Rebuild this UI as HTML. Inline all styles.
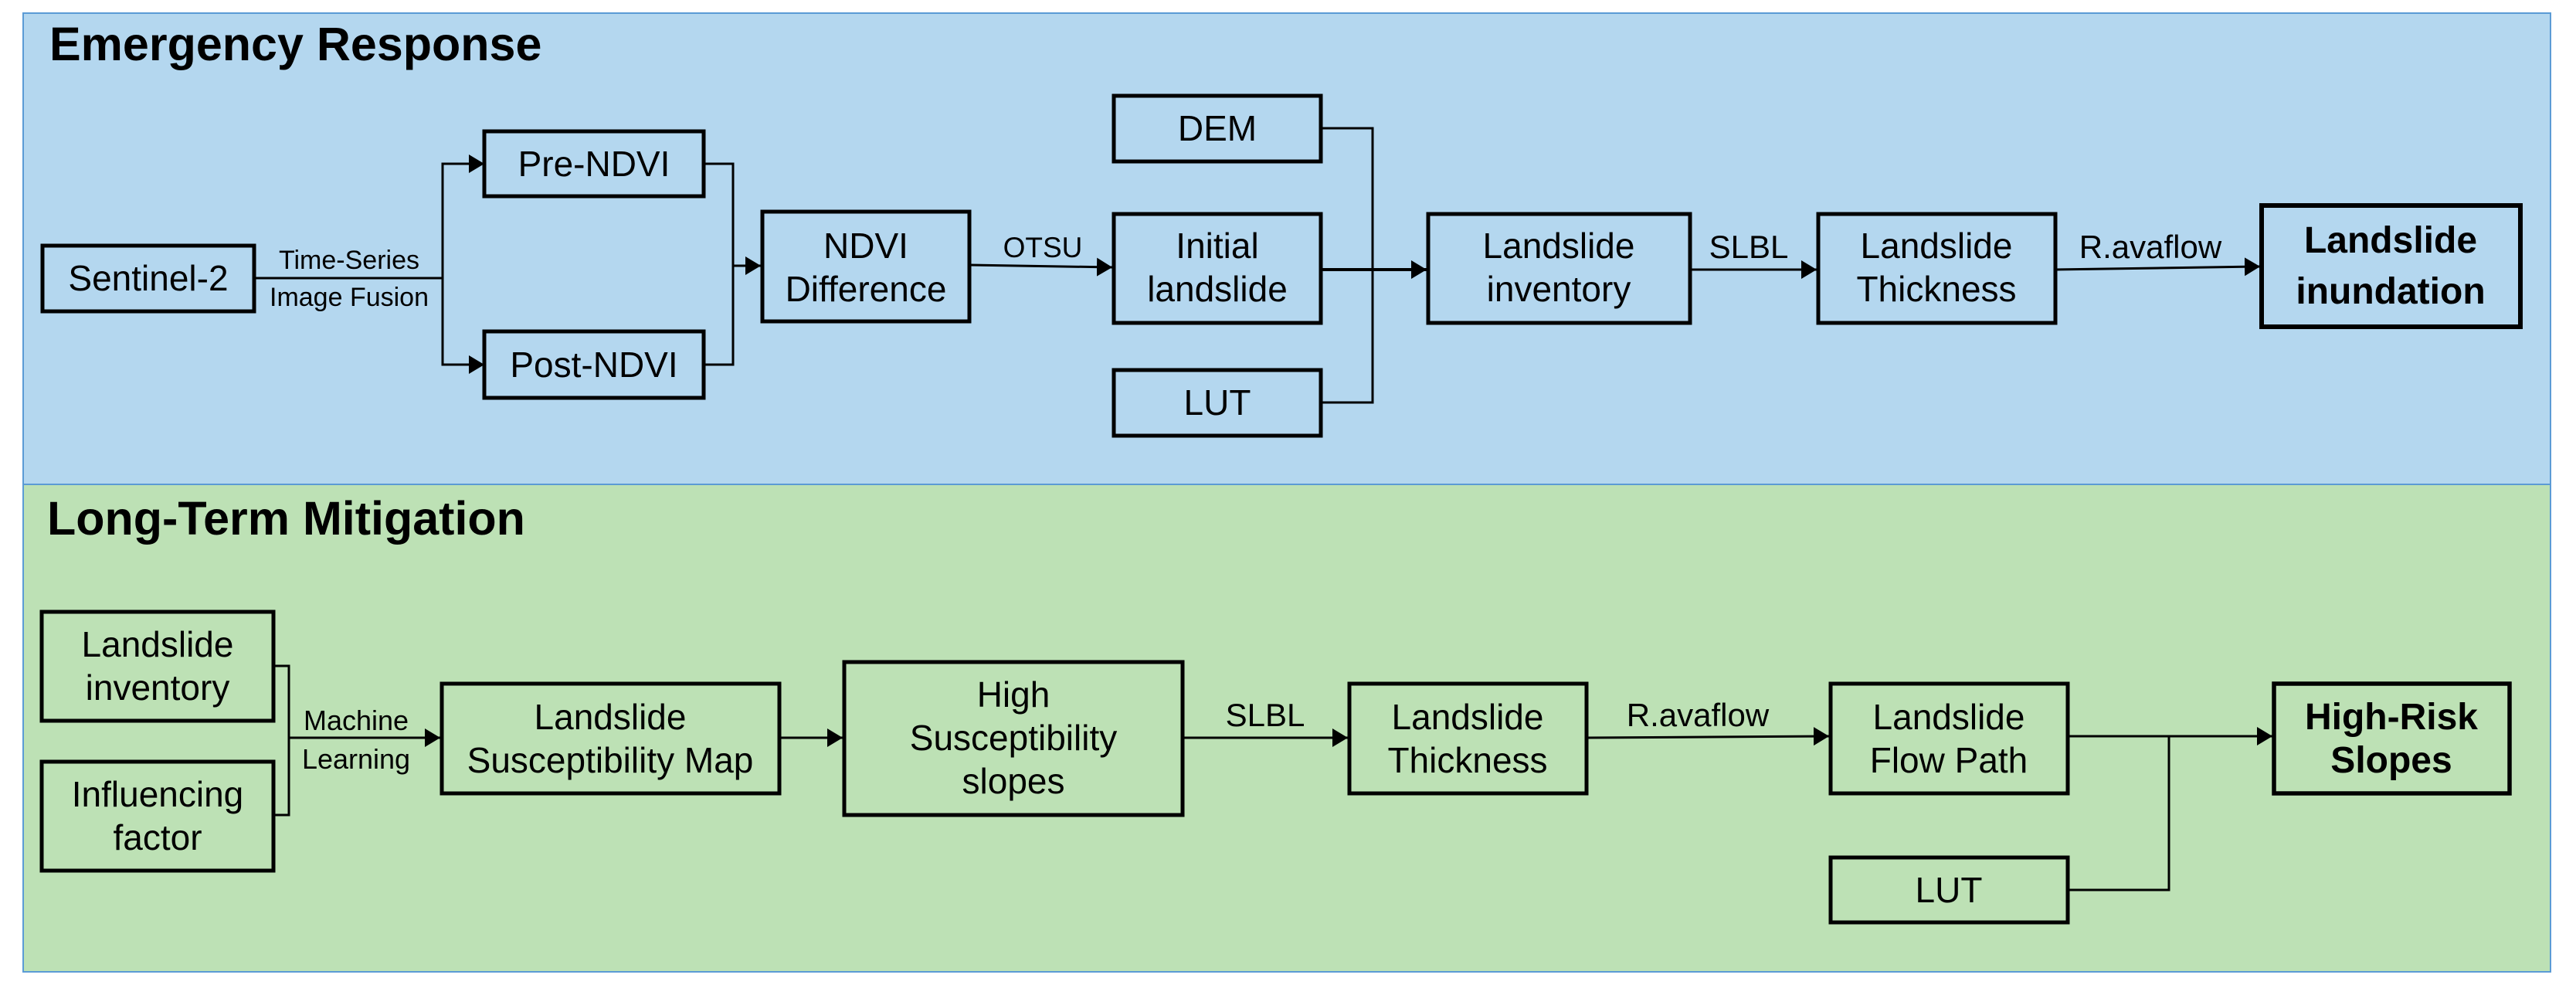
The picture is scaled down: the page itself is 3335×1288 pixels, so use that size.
<!DOCTYPE html>
<html><head><meta charset="utf-8"><style>
html,body{margin:0;padding:0;background:#fff;}
svg{display:block;}
text{font-family:"Liberation Sans",Arial,sans-serif;fill:#000;}
</style></head><body>
<svg width="3335" height="1288" viewBox="0 0 3335 1288" xmlns="http://www.w3.org/2000/svg">
<defs>
<marker id="b" viewBox="0 0 10 10" refX="10" refY="5" markerWidth="20" markerHeight="24" orient="auto" markerUnits="userSpaceOnUse" preserveAspectRatio="none">
<path d="M0,0 L10,5 L0,10 z" fill="#000"/></marker>
</defs>
<rect x="30" y="17" width="3272" height="610" fill="#b4d7ef" stroke="#5b9bd5" stroke-width="2"/>
<rect x="30" y="627" width="3272" height="631" fill="#bde1b5" stroke="#5b9bd5" stroke-width="2"/>
<text x="64" y="78" font-size="61" font-weight="bold">Emergency Response</text>
<text x="61" y="692" font-size="61" font-weight="bold">Long-Term Mitigation</text>

<g fill="none" stroke="#000" stroke-width="5">
<rect x="55" y="318" width="274" height="85"/>
<rect x="627" y="170" width="284" height="84"/>
<rect x="627" y="429" width="284" height="86"/>
<rect x="987" y="274" width="268" height="142"/>
<rect x="1442" y="124" width="268" height="85"/>
<rect x="1442" y="277" width="268" height="141"/>
<rect x="1442" y="479" width="268" height="85"/>
<rect x="1849" y="277" width="339" height="141"/>
<rect x="2354" y="277" width="307" height="141"/>
<rect x="2928" y="266" width="335" height="157" stroke-width="6"/>

<rect x="54" y="792" width="300" height="141"/>
<rect x="54" y="986" width="300" height="141"/>
<rect x="572" y="885" width="437" height="142"/>
<rect x="1093" y="857" width="438" height="198"/>
<rect x="1747" y="885" width="307" height="142"/>
<rect x="2370" y="885" width="307" height="142"/>
<rect x="2370" y="1110" width="307" height="84"/>
<rect x="2944" y="885" width="305" height="142" stroke-width="5.5"/>
</g>

<g fill="none" stroke="#000" stroke-width="3">
<polyline points="329,360 573,360"/>
<polyline points="625,212 573,212 573,472 625,472"/>
<polyline points="911,212 949,212 949,472 911,472"/>
<line x1="949" y1="344" x2="985" y2="344" marker-end="url(#b)"/>
<line x1="1255" y1="343" x2="1440" y2="346" marker-end="url(#b)"/>
<polyline points="1710,166 1777,166 1777,521 1710,521"/>
<line x1="1710" y1="349" x2="1847" y2="349" marker-end="url(#b)" stroke-width="4"/>
<line x1="2188" y1="349" x2="2352" y2="349" marker-end="url(#b)"/>
<line x1="2661" y1="349" x2="2926" y2="345" marker-end="url(#b)"/>

<polyline points="354,862 374,862 374,1055 354,1055"/>
<line x1="374" y1="955" x2="570" y2="955" marker-end="url(#b)"/>
<line x1="1009" y1="955" x2="1091" y2="955" marker-end="url(#b)"/>
<line x1="1531" y1="955" x2="1745" y2="955" marker-end="url(#b)"/>
<line x1="2054" y1="955" x2="2368" y2="953" marker-end="url(#b)"/>
<line x1="2677" y1="953" x2="2942" y2="953" marker-end="url(#b)"/>
<polyline points="2808,953 2808,1152 2677,1152"/>
</g>
<path d="M607,200 L627,212 L607,224 z"/>
<path d="M607,460 L627,472 L607,484 z"/>

<g font-size="46" text-anchor="middle">
<text x="192" y="376">Sentinel-2</text>
<text x="769" y="228">Pre-NDVI</text>
<text x="769" y="488">Post-NDVI</text>
<text x="1121" y="334">NDVI</text>
<text x="1121" y="390">Difference</text>
<text x="1576" y="182">DEM</text>
<text x="1576" y="334">Initial</text>
<text x="1576" y="390">landslide</text>
<text x="1576" y="537">LUT</text>
<text x="2018" y="334">Landslide</text>
<text x="2018" y="390">inventory</text>
<text x="2507" y="334">Landslide</text>
<text x="2507" y="390">Thickness</text>
<text x="204" y="850">Landslide</text>
<text x="204" y="906">inventory</text>
<text x="204" y="1044">Influencing</text>
<text x="204" y="1100">factor</text>
<text x="790" y="944">Landslide</text>
<text x="790" y="1000">Susceptibility Map</text>
<text x="1312" y="915">High</text>
<text x="1312" y="971">Susceptibility</text>
<text x="1312" y="1027">slopes</text>
<text x="1900" y="944">Landslide</text>
<text x="1900" y="1000">Thickness</text>
<text x="2523" y="944">Landslide</text>
<text x="2523" y="1000">Flow Path</text>
<text x="2523" y="1168">LUT</text>
</g>
<g font-size="48" text-anchor="middle" font-weight="bold">
<text x="3095" y="327">Landslide</text>
<text x="3095" y="393">inundation</text>
<text x="3096" y="944">High-Risk</text>
<text x="3096" y="1000">Slopes</text>
</g>
<g text-anchor="middle">
<text x="452" y="348" font-size="34">Time-Series</text>
<text x="452" y="396" font-size="34">Image Fusion</text>
<text x="1350" y="333" font-size="37">OTSU</text>
<text x="2264" y="334" font-size="42">SLBL</text>
<text x="2784" y="334" font-size="42">R.avaflow</text>
<text x="461" y="945" font-size="36">Machine</text>
<text x="461" y="995" font-size="36">Learning</text>
<text x="1638" y="940" font-size="42">SLBL</text>
<text x="2198" y="940" font-size="42">R.avaflow</text>
</g>
</svg>
</body></html>
